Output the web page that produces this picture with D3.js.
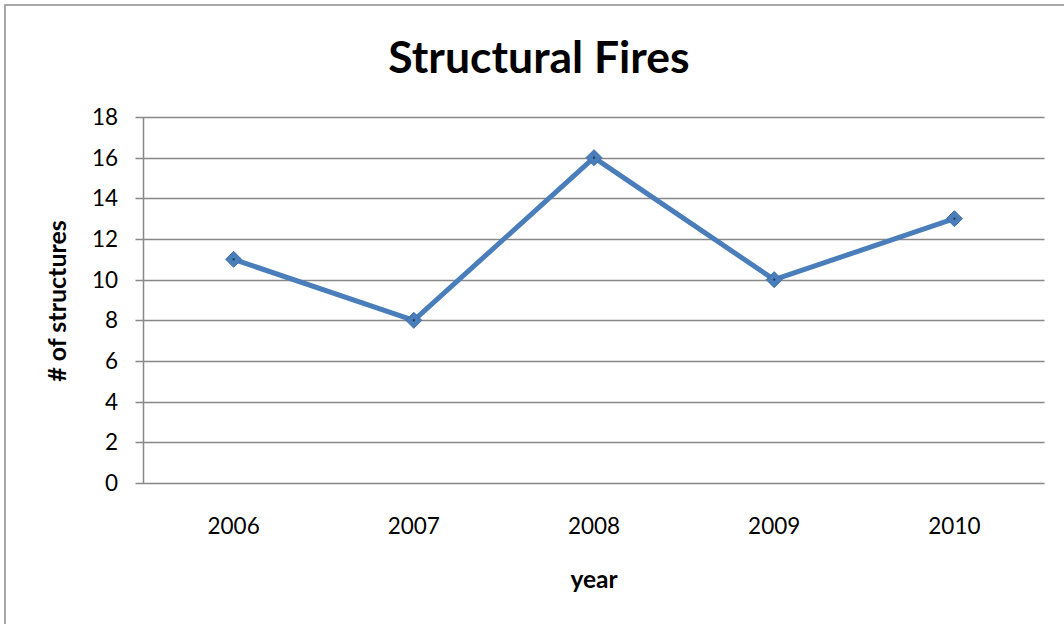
<!DOCTYPE html>
<html><head><meta charset="utf-8">
<script src="https://cdn.jsdelivr.net/npm/d3@7"></script>
<style>body{margin:0;background:#fff}svg{display:block}text{font-family:Lato,"Open Sans",sans-serif;fill:#000}</style>
</head><body><svg id="c" width="1064" height="624"></svg>
<script>
const categories = ["2006","2007","2008","2009","2010"];
const values = [11, 8, 16, 10, 13];
const yTicks = [0,2,4,6,8,10,12,14,16,18];
const title = "Structural Fires";
const xTitle = "year";
const yTitle = "# of structures";

const svg = d3.select("#c");
const pLeft = 143.5, pRight = 1044.5, pTop = 117, pBottom = 483;
const x = d3.scaleBand().domain(categories).range([pLeft, pRight]);
const y = d3.scaleLinear().domain([0, 18]).range([pBottom, pTop]);

svg.append("rect").attr("x",5).attr("y",5).attr("width",1070).attr("height",640)
  .attr("fill","#fff").attr("stroke","#8c8c8c").attr("stroke-width",1.5);

// gridlines
svg.append("g").selectAll("line").data(yTicks).join("line")
  .attr("x1", pLeft - 8).attr("x2", pRight)
  .attr("y1", d => Math.round(y(d)) + 0.5).attr("y2", d => Math.round(y(d)) + 0.5)
  .attr("stroke", "#888").attr("stroke-width", 1.5);
svg.append("line").attr("x1", pLeft).attr("x2", pLeft).attr("y1", pTop).attr("y2", pBottom)
  .attr("stroke", "#888").attr("stroke-width", 1.5);

svg.append("g").selectAll("text").data(yTicks).join("text")
  .attr("x", 118).attr("y", d => y(d)).attr("dy", "0.35em").attr("text-anchor", "end")
  .attr("font-size", 22.5).text(d => d);

svg.append("g").selectAll("text").data(categories).join("text")
  .attr("x", d => x(d) + x.bandwidth()/2).attr("y", 526).attr("dy","0.35em").attr("text-anchor","middle")
  .attr("font-size", 22.5).text(d => d);

const pts = categories.map((c,i) => [x(c) + x.bandwidth()/2, y(values[i])]);
svg.append("path").attr("d", d3.line()(pts)).attr("fill","none")
  .attr("stroke","#4a7ebb").attr("stroke-width",5).attr("stroke-linejoin","round");
svg.append("g").selectAll("path").data(pts).join("path")
  .attr("transform", d => `translate(${d[0]},${d[1]})`)
  .attr("d", "M0,-8L8,0L0,8L-8,0Z").attr("fill","#4a7ebb").attr("stroke","#3f6fa8").attr("stroke-width",1);
svg.append("g").selectAll("rect").data(pts).join("rect")
  .attr("x", d => d[0]-1).attr("y", d => d[1]-1).attr("width",2).attr("height",2).attr("fill","#1f3550");

svg.append("text").attr("x", 539).attr("y", 57).attr("dy","0.35em").attr("text-anchor","middle")
  .attr("font-size", 44.5).attr("font-weight","bold").text(title);
svg.append("text").attr("x", 594).attr("y", 579).attr("dy","0.35em").attr("text-anchor","middle")
  .attr("font-size", 24.5).attr("font-weight","bold").text(xTitle);
svg.append("text").attr("transform","translate(57,301) rotate(-90)").attr("dy","0.35em").attr("text-anchor","middle")
  .attr("font-size", 25).attr("font-weight","bold").text(yTitle);
</script></body></html>
